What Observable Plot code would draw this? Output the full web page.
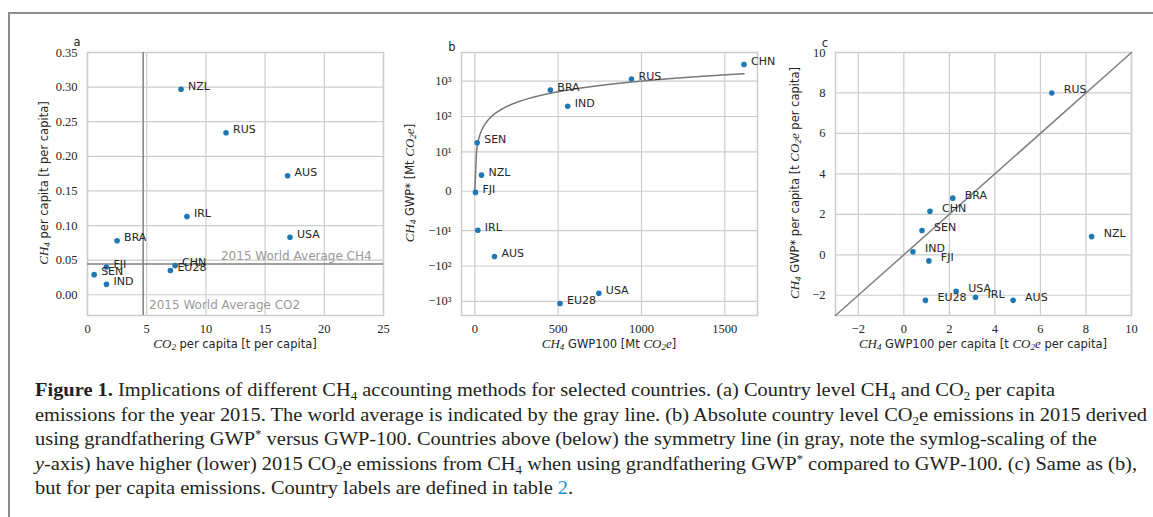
<!DOCTYPE html>
<html>
<head>
<meta charset="utf-8">
<script src="https://cdn.jsdelivr.net/npm/d3@7"></script>
<script src="https://cdn.jsdelivr.net/npm/@observablehq/plot@0.6"></script>
<style>
  html, body { margin: 0; padding: 0; background: #fff; }
  body { width: 1153px; height: 517px; position: relative; overflow: hidden; }
  .panel { position: absolute; top: 0; color: #262626; }
  .panel svg { overflow: visible; background: transparent; }
  .panel g[aria-label*="axis"] text {
    font-family: "Liberation Serif", serif !important; font-size: 12.5px !important; fill: #262626;
  }
  .lab { position: absolute; font-family: "DejaVu Sans", sans-serif; font-size: 11.5px; color: #262626; white-space: nowrap; transform: translate(-50%, -50%); }
  .lab.v { transform: translate(-50%, -50%) rotate(-90deg); }
  .m { font-family: "Liberation Serif", serif; font-style: italic; font-size: 13px; }
  .m sub { font-size: 9px; vertical-align: -2px; line-height: 0; }
  .letter { position: absolute; font-family: "DejaVu Sans", sans-serif; font-size: 11.5px; color: #262626; transform: translate(-50%, -50%); }
  #frame { position: absolute; left: 8px; top: 12px; right: -5px; bottom: -5px; border-top: 2px solid #8c8c8c; border-left: 2px solid #8c8c8c; }
  #caption { position: absolute; left: 35px; top: 378px; font-family: "Liberation Serif", serif; font-size: 19px; color: #231f20; }
  #caption .ln { white-space: nowrap; height: 24.6px; line-height: 24.6px; transform-origin: 0 50%; }
  #caption sub { font-size: 12px; vertical-align: -4px; line-height: 0; }
  #caption sup { font-size: 12px; vertical-align: 7px; line-height: 0; }
</style>
</head>
<body>
<div id="frame"></div>
<div id="pa" class="panel" style="left:0px"></div>
<div id="pb" class="panel" style="left:400px"></div>
<div id="pc" class="panel" style="left:780px"></div>

<div class="letter" style="left:77px; top:42px">a</div>
<div class="letter" style="left:452px; top:47px">b</div>
<div class="letter" style="left:825px; top:43px">c</div>

<div class="lab v" style="left:44px; top:183px"><span class="m">CH<sub>4</sub></span> per capita [t per capita]</div>
<div class="lab" style="left:235px; top:344px"><span class="m">CO<sub>2</sub></span> per capita [t per capita]</div>

<div class="lab v" style="left:410px; top:183px"><span class="m">CH<sub>4</sub></span> GWP* [Mt <span class="m">CO<sub>2</sub>e</span>]</div>
<div class="lab" style="left:609px; top:344px"><span class="m">CH<sub>4</sub></span> GWP100 [Mt <span class="m">CO<sub>2</sub>e</span>]</div>

<div class="lab v" style="left:795px; top:183px"><span class="m">CH<sub>4</sub></span> GWP* per capita [t <span class="m">CO<sub>2</sub>e</span> per capita]</div>
<div class="lab" style="left:983px; top:344px"><span class="m">CH<sub>4</sub></span> GWP100 per capita [t <span class="m">CO<sub>2</sub>e</span> per capita]</div>

<div id="caption">
  <div class="ln"><b>Figure 1.</b> Implications of different CH<sub>4</sub> accounting methods for selected countries. (a) Country level CH<sub>4</sub> and CO<sub>2</sub> per capita</div>
  <div class="ln">emissions for the year 2015. The world average is indicated by the gray line. (b) Absolute country level CO<sub>2</sub>e emissions in 2015 derived</div>
  <div class="ln">using grandfathering GWP<sup>*</sup> versus GWP-100. Countries above (below) the symmetry line (in gray, note the symlog-scaling of the</div>
  <div class="ln" id="ref-line"><i>y</i>-axis) have higher (lower) 2015 CO<sub>2</sub>e emissions from CH<sub>4</sub> when using grandfathering GWP<sup>*</sup> compared to GWP-100. (c) Same as (b),</div>
  <div class="ln">but for per capita emissions. Country labels are defined in table <span style="color:#1e8ecf">2</span>.</div>
</div>

<script>
// ---------- data ----------
const countries        = ["NZL", "RUS", "AUS", "IRL", "USA", "BRA", "CHN", "EU28", "FJI", "SEN", "IND"];
// (a) per capita emissions 2015
const co2PerCapita     = [7.9, 11.7, 16.9, 8.4, 17.1, 2.5, 7.4, 7.0, 1.6, 0.56, 1.6];
const ch4PerCapita     = [0.297, 0.234, 0.172, 0.113, 0.083, 0.078, 0.042, 0.035, 0.040, 0.029, 0.015];
const worldAvgCO2      = 4.7;
const worldAvgCH4      = 0.0445;
// (b) absolute CH4 emissions [Mt CO2e]
const gwp100Total      = [40, 940, 118, 18, 744, 453, 1615, 511, 4, 14, 557];
const gwpStarTotal     = [4.1, 1140, -54, -9.9, -590, 560, 2950, -1150, -0.3, 18, 195];
// (c) per capita CH4 emissions [t CO2e per capita]
const gwp100PerCapita  = [8.25, 6.5, 4.8, 3.15, 2.3, 2.15, 1.15, 0.95, 1.1, 0.8, 0.4];
const gwpStarPerCapita = [0.9, 8.0, -2.25, -2.1, -1.8, 2.8, 2.15, -2.25, -0.3, 1.2, 0.15];
// tick values / labels
const ticksAX = [0, 5, 10, 15, 20, 25];
const ticksAY = [0, 0.05, 0.10, 0.15, 0.20, 0.25, 0.30, 0.35];
const ticksBX = [0, 500, 1000, 1500];
const ticksBY = [-1000, -100, -10, 0, 10, 100, 1000];
const labelsBY = ["\u221210\u00B3", "\u221210\u00B2", "\u221210\u00B9", "0", "10\u00B9", "10\u00B2", "10\u00B3"];
const ticksC  = [-2, 0, 2, 4, 6, 8, 10];

// ---------- helpers ----------
const BLUE = "#1f77b4", GRID = "#cccccc", REF = "#808080", INK = "#262626";
const SERIF = "Liberation Serif, serif";
// matplotlib-style symlog (linthresh 10, linscale 1)
const LT = 10, LS = 1 / (1 - 1 / 10);
function symlog(v) {
  const a = Math.abs(v), s = Math.sign(v);
  return a <= LT ? s * (a / LT) * LS : s * (LS + Math.log10(a / LT));
}
function fmtMinus(s) { return String(s).replace("-", "\u2212"); }

const rowsA = countries.map((c, i) => ({c, x: co2PerCapita[i], y: ch4PerCapita[i]}));
const rowsB = countries.map((c, i) => ({c, x: gwp100Total[i], y: gwpStarTotal[i]}));
const rowsC = countries.map((c, i) => ({c, x: gwp100PerCapita[i], y: gwpStarPerCapita[i]}));

const common = {height: 360, marginTop: 52, marginBottom: 45, style: {background: "transparent", overflow: "visible"}};
const labelOpts = (dx) => ({x: "x", y: "y", text: "c", textAnchor: "start", dx, dy: -3,
  fontFamily: "DejaVu Sans, sans-serif", fontSize: 11, fill: INK});
const axX = (ticks, fmt) => Plot.axisX(ticks, {tickSize: 0, tickPadding: 9, tickFormat: fmt, label: null,
  fontFamily: SERIF, fontSize: 12.5, fill: INK});
const axY = (ticks, fmt) => Plot.axisY(ticks, {tickSize: 0, tickPadding: 10, tickFormat: fmt, label: null,
  fontFamily: SERIF, fontSize: 12.5, fill: INK});

// ---------- panel a ----------
const plotA = Plot.plot({
  ...common,
  width: 395, marginLeft: 87, marginRight: 12,
  x: {domain: [0, 25]},
  y: {domain: [-0.03, 0.35]},
  marks: [
    Plot.gridX(ticksAX, {stroke: GRID, strokeOpacity: 1, strokeWidth: 1.2}),
    Plot.gridY(ticksAY, {stroke: GRID, strokeOpacity: 1, strokeWidth: 1.2}),
    Plot.frame({stroke: GRID, strokeWidth: 1.5}),
    axX(ticksAX, d3.format("d")),
    axY(ticksAY, d3.format(".2f")),
    Plot.ruleX([worldAvgCO2], {stroke: REF, strokeWidth: 1.5}),
    Plot.ruleY([worldAvgCH4], {stroke: REF, strokeWidth: 1.5}),
    Plot.text(["2015 World Average CH4"], {x: 24, y: worldAvgCH4, textAnchor: "end", dy: -8,
      fontFamily: "DejaVu Sans, sans-serif", fontSize: 12, fill: "#9a9a9a"}),
    Plot.text(["2015 World Average CO2"], {x: worldAvgCO2 + 0.5, y: -0.0145, textAnchor: "start",
      fontFamily: "DejaVu Sans, sans-serif", fontSize: 12, fill: "#9a9a9a"}),
    Plot.dot(rowsA, {x: "x", y: "y", r: 2.8, fill: BLUE}),
    Plot.text(rowsA, labelOpts(7))
  ]
});
document.getElementById("pa").append(plotA);

// ---------- panel b ----------
const tyB = rowsB.map(d => symlog(d.y));
const [bMin, bMax] = d3.extent(tyB);
const bPad = (bMax - bMin) * 0.05;
const maxX = d3.max(gwp100Total);
const refXs = [...d3.range(0, 60, 0.25), ...d3.range(60, maxX, 5), maxX];
const symTicks = ticksBY.map(symlog);
const plotB = Plot.plot({
  ...common,
  width: 370, marginLeft: 61, marginRight: 13,
  x: {domain: [-80, 1696]},
  y: {domain: [bMin - bPad, bMax + bPad]},
  marks: [
    Plot.gridX(ticksBX, {stroke: GRID, strokeOpacity: 1, strokeWidth: 1.2}),
    Plot.gridY(symTicks, {stroke: GRID, strokeOpacity: 1, strokeWidth: 1.2}),
    Plot.frame({stroke: GRID, strokeWidth: 1.5}),
    axX(ticksBX, d3.format("d")),
    axY(symTicks, (t) => { const i = symTicks.findIndex(v => Math.abs(v - t) < 1e-9); return i >= 0 ? labelsBY[i] : ""; }),
    Plot.line(refXs, {x: d => d, y: d => symlog(d), stroke: "#777777", strokeWidth: 1.5}),
    Plot.dot(rowsB, {x: "x", y: d => symlog(d.y), r: 2.8, fill: BLUE}),
    Plot.text(rowsB, {...labelOpts(7), y: d => symlog(d.y)})
  ]
});
document.getElementById("pb").append(plotB);

// ---------- panel c ----------
const limC = [-3, 10];
const plotC = Plot.plot({
  ...common,
  width: 373, marginLeft: 55, marginRight: 22,
  x: {domain: limC},
  y: {domain: limC},
  marks: [
    Plot.gridX(ticksC, {stroke: GRID, strokeOpacity: 1, strokeWidth: 1.2}),
    Plot.gridY(ticksC, {stroke: GRID, strokeOpacity: 1, strokeWidth: 1.2}),
    Plot.frame({stroke: GRID, strokeWidth: 1.5}),
    axX(ticksC, fmtMinus),
    axY(ticksC, fmtMinus),
    Plot.line(limC, {x: d => d, y: d => d, stroke: REF, strokeWidth: 1.5}),
    Plot.dot(rowsC, {x: "x", y: "y", r: 2.8, fill: BLUE}),
    Plot.text(rowsC, labelOpts(12))
  ]
});
document.getElementById("pc").append(plotC);

// ---------- caption: uniform horizontal fit (line 4 spans to x = 1137) ----------
(function () {
  const ref = document.getElementById("ref-line");
  ref.style.display = "inline-block";
  const w = ref.getBoundingClientRect().width;
  ref.style.display = "block";
  const s = (1137 - 35) / w;
  document.querySelectorAll("#caption .ln").forEach(el => { el.style.transform = `scaleX(${s})`; });
})();
</script>
</body>
</html>
